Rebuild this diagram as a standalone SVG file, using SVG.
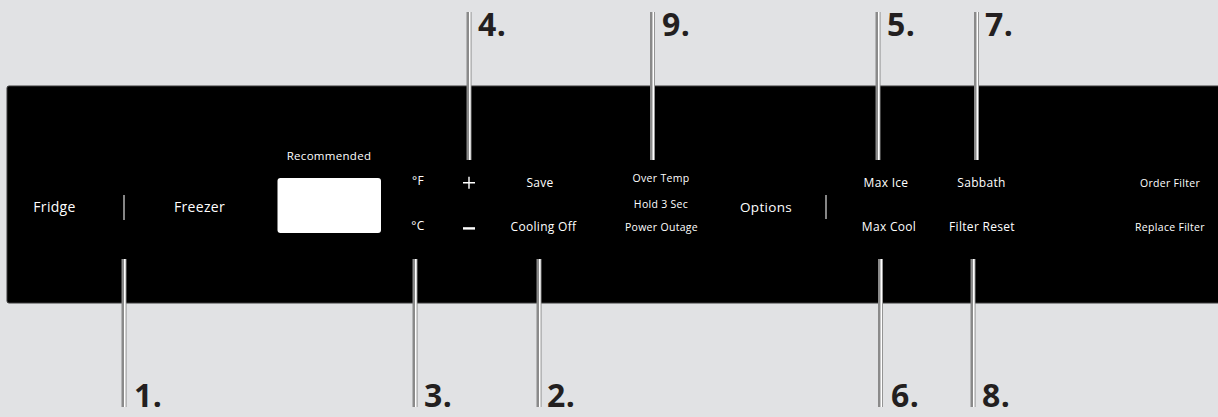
<svg xmlns="http://www.w3.org/2000/svg" width="1218" height="417" viewBox="0 0 1218 417">
<style>
.lbl{font-family:"Open Sans","Liberation Sans",sans-serif;fill:#fff;text-anchor:middle;letter-spacing:0.3px}
.num{font-family:"Open Sans","Liberation Sans",sans-serif;font-weight:700;font-size:32px;fill:#231f20;letter-spacing:0.5px}
.sep{stroke:#a8a8a8;stroke-width:1.6}
.co{fill:#8a8a8a}
.coi{fill:#fff}
</style>
<defs>
<g id="callout">
<rect class="co" x="-2.5" y="0" width="5" height="148"/>
<rect class="coi" x="0" y="0" width="1.6" height="148"/>
</g>
</defs>
<rect width="1218" height="417" fill="#e1e2e4"/>
<g id="panel">
<rect x="7" y="86" width="1216" height="217" rx="2" fill="#000" stroke="#3a3a3a" stroke-width="1"/>
</g>
<g id="fridge"><text class="lbl" x="54.5" y="212" font-size="14">Fridge</text></g>
<g id="sep1"><line class="sep" x1="124" y1="195" x2="124" y2="220"/></g>
<g id="freezer"><text class="lbl" x="199.5" y="212" font-size="14">Freezer</text></g>
<g id="recommended"><text class="lbl" x="329" y="160" font-size="11.5">Recommended</text>
<rect x="277.5" y="178" width="103.5" height="55" rx="3" fill="#fff"/></g>
<g id="units"><text class="lbl" x="418" y="185" font-size="12">°F</text><text class="lbl" x="418" y="230" font-size="12">°C</text></g>
<g id="plusminus"><path d="M463 182.7h12M469 176.7v12" stroke="#fff" stroke-width="1.4"/><rect x="463" y="227.2" width="12" height="2.4" fill="#fff"/></g>
<g id="save"><text class="lbl" x="540" y="187" font-size="12">Save</text><text class="lbl" x="543.5" y="231" font-size="12">Cooling Off</text></g>
<g id="overtemp"><text class="lbl" x="661" y="182" font-size="10.5">Over Temp</text><text class="lbl" x="661" y="208" font-size="10.5">Hold 3 Sec</text><text class="lbl" x="661.5" y="231" font-size="10.5">Power Outage</text></g>
<g id="options"><text class="lbl" x="766" y="212" font-size="13.5">Options</text></g>
<g id="sep2"><line class="sep" x1="826" y1="195" x2="826" y2="219"/></g>
<g id="maxice"><text class="lbl" x="886" y="187" font-size="12">Max Ice</text><text class="lbl" x="889" y="231" font-size="12">Max Cool</text></g>
<g id="sabbath"><text class="lbl" x="981.5" y="187" font-size="12">Sabbath</text><text class="lbl" x="982" y="231" font-size="12">Filter Reset</text></g>
<g id="filter"><text class="lbl" x="1170" y="187" font-size="10.5">Order Filter</text><text class="lbl" x="1170" y="231" font-size="10.5">Replace Filter</text></g>
<g id="connectors">
<use href="#callout" x="124" y="259"/>
<use href="#callout" x="415" y="259"/>
<use href="#callout" x="539" y="259"/>
<use href="#callout" x="880.5" y="259"/>
<use href="#callout" x="973" y="259"/>
<use href="#callout" x="469" y="12"/>
<use href="#callout" x="652.5" y="12"/>
<use href="#callout" x="878" y="12"/>
<use href="#callout" x="976.5" y="12"/>
</g>
<g id="numbers">
<text class="num" x="134" y="407">1.</text>
<text class="num" x="424" y="407">3.</text>
<text class="num" x="547" y="407">2.</text>
<text class="num" x="891" y="407">6.</text>
<text class="num" x="982" y="407">8.</text>
<text class="num" x="478" y="36">4.</text>
<text class="num" x="662" y="36">9.</text>
<text class="num" x="887" y="36">5.</text>
<text class="num" x="985" y="36">7.</text>
</g>
</svg>
